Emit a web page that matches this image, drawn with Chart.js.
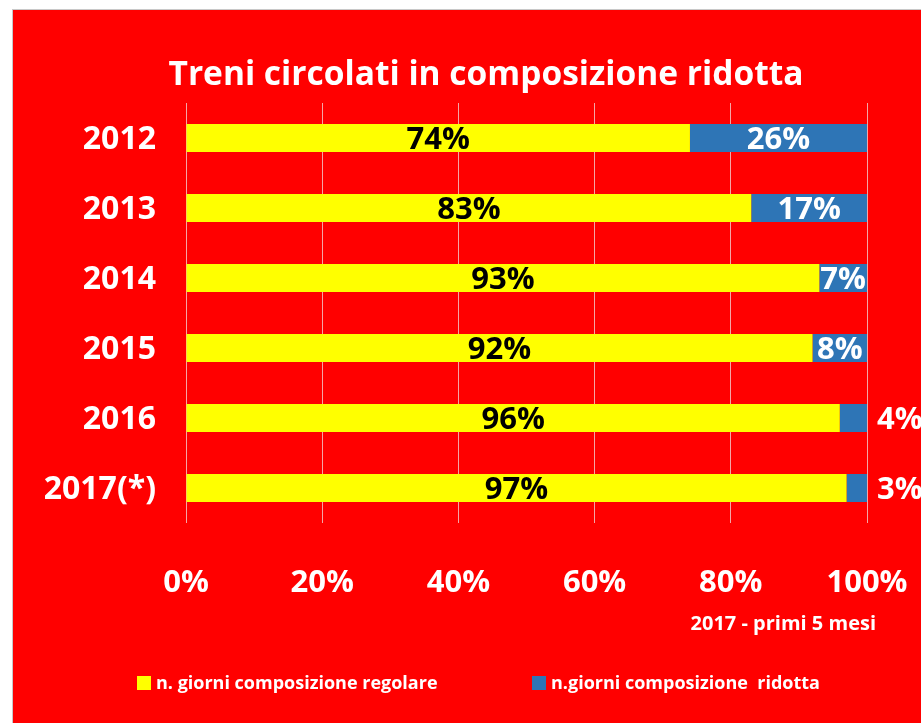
<!DOCTYPE html>
<html>
<head>
<meta charset="utf-8">
<title>Treni circolati in composizione ridotta</title>
<script src="https://cdn.jsdelivr.net/npm/chart.js@4.4.0/dist/chart.umd.min.js"></script>
<style>
  html, body { margin: 0; padding: 0; background: #ffffff; }
  #frame {
    position: absolute;
    left: 12px;
    top: 9px;
    width: 908px;
    height: 713px;
    border-left: 1px solid #c8c8c8;
    border-top: 1px solid #c8c8c8;
    background: #ff0000;
  }
  canvas { display: block; }
</style>
</head>
<body>
<div id="frame">
  <canvas id="trainChart" width="908" height="713"></canvas>
</div>
<script>
// Chart data
const categories = ['2012', '2013', '2014', '2015', '2016', '2017(*)'];
const regolare = [74, 83, 93, 92, 96, 97];
const ridotta = [26, 17, 7, 8, 4, 3];
const seriesLabels = ['n. giorni composizione regolare', 'n.giorni composizione  ridotta'];
const xTickValues = [0, 20, 40, 60, 80, 100];
const chartTitle = 'Treni circolati in composizione ridotta';
const footnote = '2017 - primi 5 mesi';

const FONT = "'Open Sans', sans-serif";
Chart.defaults.font.family = FONT;

// bar value labels, drawn inside (or just past) each segment
const valueLabels = {
  id: 'valueLabels',
  afterDatasetsDraw(chart) {
    const ctx = chart.ctx;
    ctx.save();
    ctx.font = 'bold 31px ' + FONT;
    ctx.textBaseline = 'middle';
    chart.data.datasets.forEach((ds, i) => {
      const meta = chart.getDatasetMeta(i);
      meta.data.forEach((bar, j) => {
        const value = ds.data[j];
        const text = value + '%';
        const y = bar.y + 2;
        if (i === 0) {
          ctx.fillStyle = '#000000';
          ctx.textAlign = 'center';
          ctx.fillText(text, (bar.x + bar.base) / 2, y);
        } else if (value >= 5) {
          ctx.fillStyle = '#ffffff';
          ctx.textAlign = 'center';
          ctx.fillText(text, (bar.x + bar.base) / 2, y);
        } else {
          ctx.fillStyle = '#ffffff';
          ctx.textAlign = 'left';
          ctx.fillText(text, bar.x + 10, y);
        }
      });
    });
    ctx.restore();
  }
};

// title, footnote and legend
const chartText = {
  id: 'chartText',
  afterDraw(chart) {
    const ctx = chart.ctx;
    ctx.save();
    ctx.fillStyle = '#ffffff';
    ctx.textBaseline = 'alphabetic';

    ctx.font = 'bold 33.5px ' + FONT;
    ctx.textAlign = 'center';
    ctx.fillText(chartTitle, 473, 75);

    ctx.font = 'bold 20px ' + FONT;
    ctx.textAlign = 'right';
    ctx.fillText(footnote, 863, 620);

    const boxX = [124, 519];
    ctx.font = 'bold 18px ' + FONT;
    ctx.textAlign = 'left';
    chart.data.datasets.forEach((ds, i) => {
      ctx.fillStyle = ds.backgroundColor;
      ctx.fillRect(boxX[i], 666, 14, 14);
      ctx.fillStyle = '#ffffff';
      ctx.fillText(ds.label, boxX[i] + 19, 679);
    });
    ctx.restore();
  }
};

const ctx = document.getElementById('trainChart').getContext('2d');

new Chart(ctx, {
  type: 'bar',
  data: {
    labels: categories,
    datasets: [
      {
        label: seriesLabels[0],
        data: regolare,
        backgroundColor: '#ffff00',
        borderWidth: 0,
        barPercentage: 0.4,
        categoryPercentage: 1
      },
      {
        label: seriesLabels[1],
        data: ridotta,
        backgroundColor: '#2e75b6',
        borderWidth: 0,
        barPercentage: 0.4,
        categoryPercentage: 1
      }
    ]
  },
  options: {
    indexAxis: 'y',
    responsive: false,
    devicePixelRatio: 1,
    animation: false,
    layout: {
      padding: { left: 0, right: 54, top: 93, bottom: 0 }
    },
    plugins: {
      legend: { display: false },
      tooltip: { enabled: false },
      title: { display: false }
    },
    scales: {
      x: {
        stacked: true,
        min: 0,
        max: 100,
        afterBuildTicks: (scale) => {
          scale.ticks = xTickValues.map(v => ({ value: v }));
        },
        afterFit: (scale) => {
          scale.height = 200;
          scale.paddingLeft = 0;
          scale.paddingRight = 0;
        },
        ticks: {
          color: '#ffffff',
          font: { size: 31, weight: 'bold' },
          padding: 42,
          maxRotation: 0,
          callback: (v) => v + '%'
        },
        grid: {
          color: '#f4a6a6',
          lineWidth: 1,
          drawTicks: false
        },
        border: { display: false }
      },
      y: {
        stacked: true,
        afterFit: (scale) => {
          scale.width = 173;
          scale.paddingTop = 0;
          scale.paddingBottom = 0;
        },
        ticks: {
          color: '#ffffff',
          font: { size: 32, weight: 'bold' },
          padding: 30,
          labelOffset: 2
        },
        grid: { display: false, drawTicks: false },
        border: { display: false }
      }
    }
  },
  plugins: [valueLabels, chartText]
});
</script>
</body>
</html>
